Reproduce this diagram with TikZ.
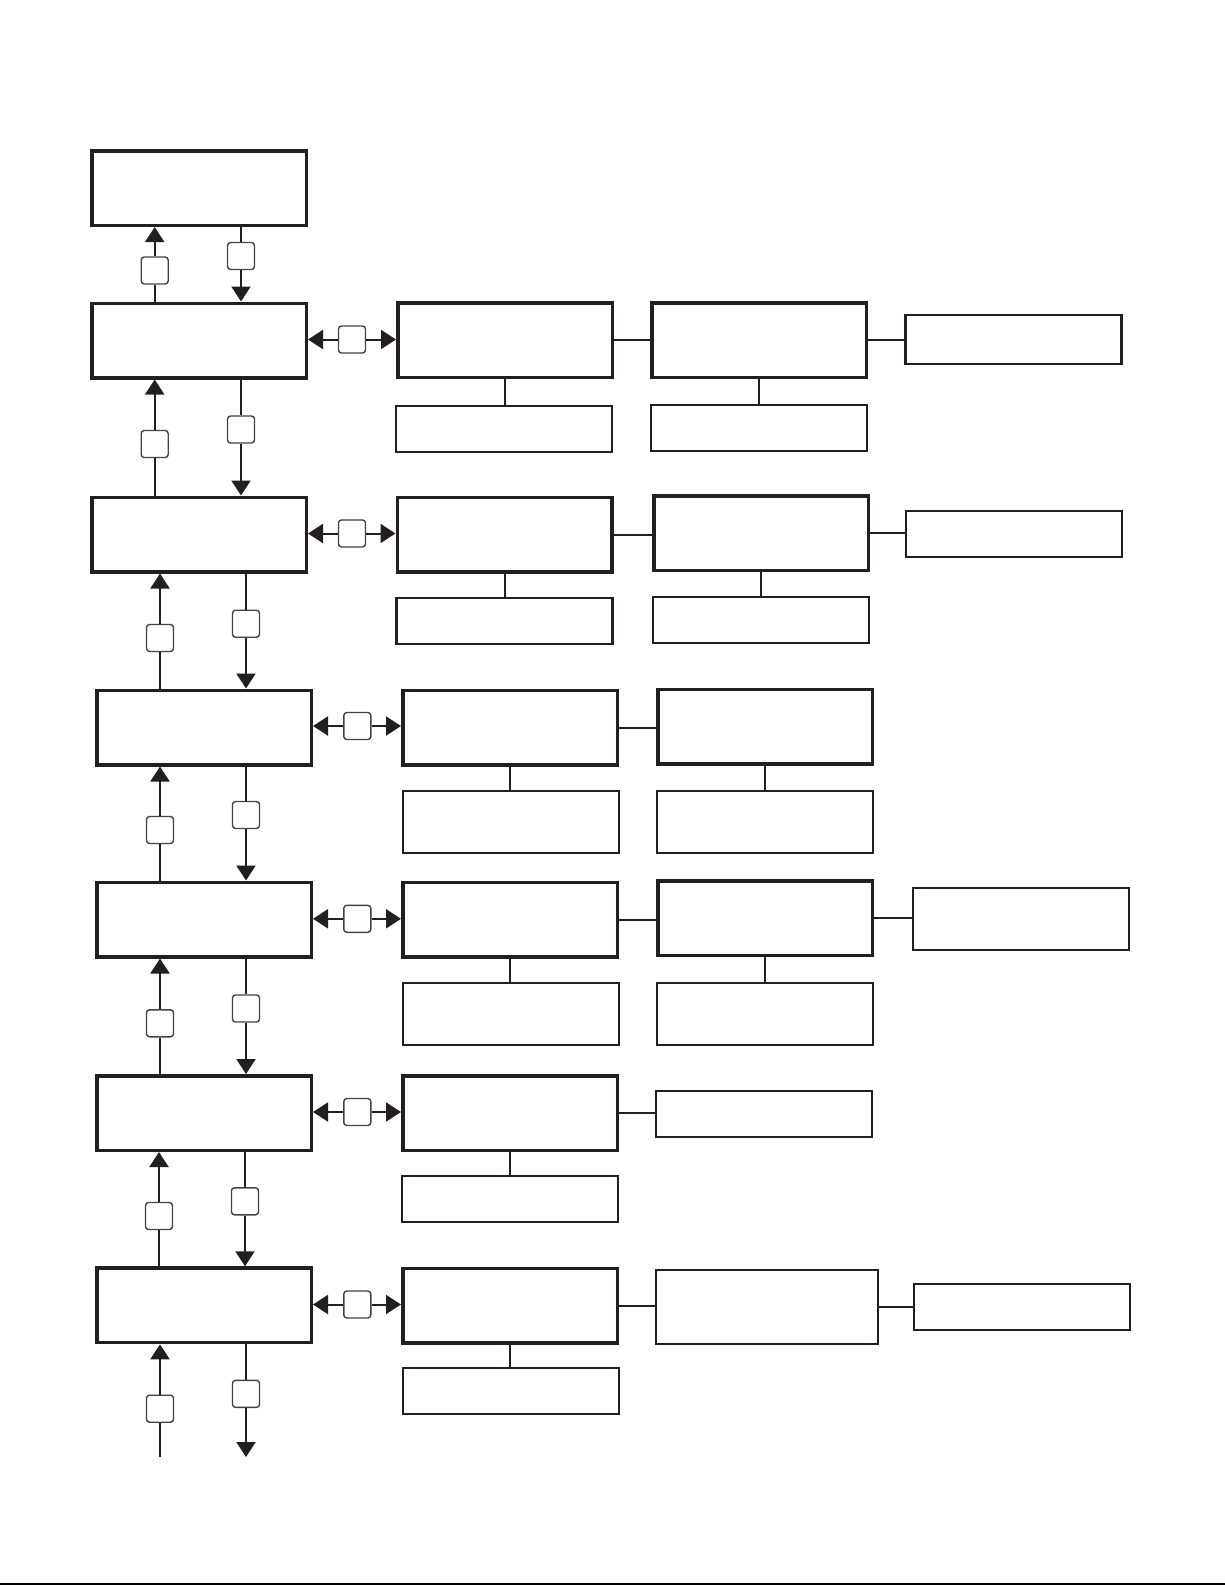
\documentclass[tikz,border=0pt]{standalone}
\usetikzlibrary{arrows.meta}
\definecolor{ink}{HTML}{231F20}
\tikzset{
  mainbox/.style={draw=ink, line width=3.5pt, minimum width=214.5pt, minimum height=74.5pt, inner sep=0pt},
  sidebox/.style={draw=ink, line width=2.2pt, minimum width=216pt, minimum height=46pt, inner sep=0pt},
  tall/.style={minimum height=62pt},
  tag/.style={draw=ink!85, line width=1.4pt, rounded corners=3pt, minimum size=27pt, inner sep=0pt},
  link/.style={draw=ink, line width=2pt},
  tip/.style={draw=ink, line width=2pt, -{Triangle[length=15pt,width=19pt]}},
}
\begin{document}
\begin{tikzpicture}[x=1pt,y=-1pt]
  \useasboundingbox (0,0) rectangle (1225,1585);
  % left column
  \node[mainbox] (L0) at (199,188) {};
  \node[mainbox] (L1) at (199,340.5) {};
  \node[mainbox] (L2) at (199,534.5) {};
  \node[mainbox] (L3) at (204,727.5) {};
  \node[mainbox] (L4) at (204,919.5) {};
  \node[mainbox] (L5) at (204,1113) {};
  \node[mainbox] (L6) at (204,1305.3) {};
  \coordinate (L7) at (204,1457);
  % middle column
  \node[mainbox] (M1) at (505,340.3) {};
  \node[mainbox] (M2) at (504.5,534.5) {};
  \node[mainbox] (M3) at (510,727.5) {};
  \node[mainbox] (M4) at (510,919.7) {};
  \node[mainbox] (M5) at (510,1113) {};
  \node[mainbox] (M6) at (510,1305.5) {};
  \node[sidebox] (Ms1) at (504,428.8) {};
  \node[sidebox] (Ms2) at (504.5,620.7) {};
  \node[sidebox,tall] (Ms3) at (511,821.8) {};
  \node[sidebox,tall] (Ms4) at (511,1013.8) {};
  \node[sidebox] (Ms5) at (510,1199) {};
  \node[sidebox] (Ms6) at (511,1390.8) {};
  % right column
  \node[mainbox] (R1) at (759,340.2) {};
  \node[mainbox] (R2) at (761,533.2) {};
  \node[mainbox] (R3) at (765,726.7) {};
  \node[mainbox] (R4) at (765,918.3) {};
  \node[sidebox] (R5) at (764,1113.8) {};
  \node[sidebox,minimum width=222pt,minimum height=74pt] (R6) at (767,1307) {};
  \node[sidebox] (Rs1) at (759,427.8) {};
  \node[sidebox] (Rs2) at (761,620.2) {};
  \node[sidebox,tall] (Rs3) at (765,821.8) {};
  \node[sidebox,tall] (Rs4) at (765,1013.8) {};
  % far right
  \node[sidebox,minimum height=49pt] (F1) at (1013.5,339.5) {};
  \node[sidebox] (F2) at (1014,533.7) {};
  \node[sidebox,tall] (F4) at (1021,918.8) {};
  \node[sidebox] (F6) at (1022,1306.7) {};
  % tags on the arrows
  \node[tag] (U1) at (154.7,270.5) {};
  \node[tag] (D1) at (241,256) {};
  \node[tag] (U2) at (154.7,444) {};
  \node[tag] (D2) at (241,429.5) {};
  \node[tag] (U3) at (160,638) {};
  \node[tag] (D3) at (246,623.7) {};
  \node[tag] (U4) at (160,830) {};
  \node[tag] (D4) at (246,815) {};
  \node[tag] (U5) at (160,1023.3) {};
  \node[tag] (D5) at (246,1008.5) {};
  \node[tag] (U6) at (159,1216) {};
  \node[tag] (D6) at (245,1201.3) {};
  \node[tag] (U7) at (160,1408.7) {};
  \node[tag] (D7) at (246,1393.8) {};
  \node[tag] (H1) at (352,339.5) {};
  \node[tag] (H2) at (352,533.5) {};
  \node[tag] (H3) at (357.3,726) {};
  \node[tag] (H4) at (357.3,918.8) {};
  \node[tag] (H5) at (357.3,1112) {};
  \node[tag] (H6) at (357.3,1304.5) {};
  % up and down arrows
  \foreach \a/\b/\i in {L0/L1/1,L1/L2/2,L2/L3/3,L3/L4/4,L4/L5/5,L5/L6/6,L6/L7/7} {
    \draw[link] (\b.north -| U\i) -- (U\i.south);
    \draw[tip] (U\i.north) -- (\a.south -| U\i);
    \draw[link] (\a.south -| D\i) -- (D\i.north);
    \draw[tip] (D\i.south) -- (\b.north -| D\i);
  }
  % both-way arrows
  \foreach \i in {1,...,6} {
    \draw[tip] (H\i.west) -- (L\i.east |- H\i);
    \draw[tip] (H\i.east) -- (M\i.west |- H\i);
    \draw[link] (M\i.east) -- (M\i.east -| R\i.west);
    \draw[link] (M\i.south) -- (M\i.south |- Ms\i.north);
  }
  \foreach \i in {1,...,4} \draw[link] (R\i.south) -- (R\i.south |- Rs\i.north);
  \foreach \i in {1,2,4,6} \draw[link] (R\i.east) -- (R\i.east -| F\i.west);
  \draw[line width=1.3pt] (0,1584) -- (1225,1584);
\end{tikzpicture}
\end{document}
